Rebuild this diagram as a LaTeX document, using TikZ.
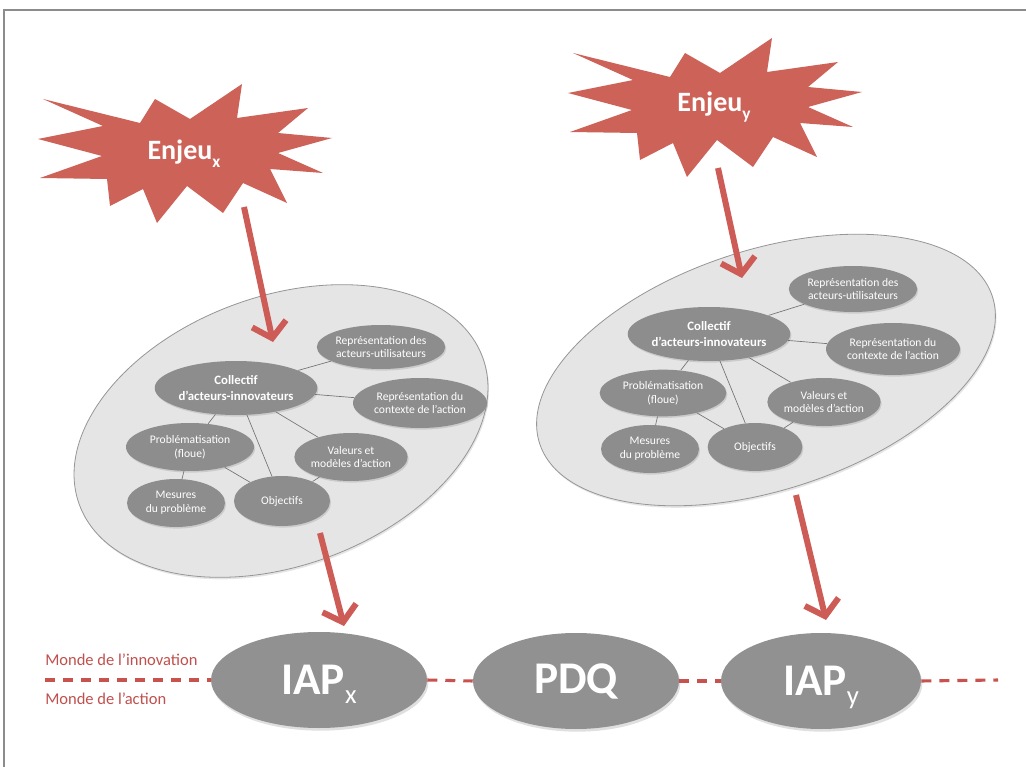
\documentclass[tikz,border=0pt]{standalone}
\usepackage{fontspec}
\setmainfont{Carlito}
\usetikzlibrary{shapes.geometric,arrows.meta,shadows}
\definecolor{starred}{RGB}{205,98,88}
\definecolor{arrred}{RGB}{205,92,86}
\definecolor{dashred}{RGB}{200,82,78}
\definecolor{lblred}{RGB}{192,80,77}
\definecolor{nodegray}{RGB}{141,141,141}
\definecolor{biggray}{RGB}{145,145,145}
\definecolor{cloudfill}{RGB}{229,229,229}
\definecolor{cloudline}{RGB}{150,150,150}
\definecolor{linkgray}{RGB}{115,115,115}
\definecolor{framegray}{RGB}{140,140,140}
\tikzset{
  item/.style={ellipse, fill=nodegray, text=white, inner sep=0pt, align=center,
    font=\fontsize{8.7}{10.2}\selectfont,
    drop shadow={opacity=0.25,shadow xshift=0.8pt,shadow yshift=-1.2pt}},
  headitem/.style={item, font=\fontsize{9.6}{11.5}\selectfont\bfseries},
  cloudnode/.style={ellipse, fill=cloudfill, draw=cloudline, line width=0.6pt, inner sep=0pt,
    drop shadow={opacity=0.2,shadow xshift=0.8pt,shadow yshift=-1.5pt}},
  bignode/.style={ellipse, fill=biggray, text=white, inner sep=0pt,
    minimum height=72pt, font=\fontsize{34}{34}\selectfont\bfseries,
    drop shadow={opacity=0.25,shadow xshift=1pt,shadow yshift=-2pt}},
  link/.style={draw=linkgray, line width=0.5pt},
  bigarrow/.style={draw=arrred, line width=4.5pt,
    -{Straight Barb[length=11pt,width=26pt]}},
  worldline/.style={draw=dashred, line width=2.3pt, dash pattern=on 7.5pt off 6pt},
  starshape/.style={fill=starred},
  startext/.style={text=white, font=\fontsize{21}{21}\selectfont\bfseries},
  worldlabel/.style={text=lblred, anchor=west, inner sep=0pt, font=\fontsize{12.4}{14}\selectfont}
}
\newcommand{\subsc}[1]{\smash{\raisebox{-0.2em}{\fontsize{20}{20}\selectfont\mdseries #1}}}
\newcommand{\ensub}[1]{\smash{\raisebox{-0.3em}{\fontsize{13}{13}\selectfont #1}}}
\begin{document}
\begin{tikzpicture}[x=0.75pt,y=-0.75pt]
\useasboundingbox (0,0) rectangle (1026,767);
\fill[white] (0,0) rectangle (1026,767);
% page frame
\draw[framegray, line width=0.8pt] (4,767) -- (4,10) -- (1026,10);

% stars
\newcommand{\starpath}{(573,53) -- (670,77) -- (685,53) -- (720,73) -- (772,38) -- (767,72) -- (838,62) -- (808,87) -- (862,92) -- (808,107) -- (853,127) -- (800,123) -- (817,157) -- (773,137) -- (753,167) -- (717,140) -- (687,177) -- (673,143) -- (640,160) -- (637,133) -- (570,132) -- (632,110) -- (568,93) -- (633,80) -- cycle}
\fill[starshape] \starpath;
\begin{scope}[shift={(-530,46)}]
\fill[starshape] \starpath;
\end{scope}
\node[startext] (enjx) at (184,152) {Enjeu\ensub{x}};
\node[startext] (enjy) at (714,104) {Enjeu\ensub{y}};

% big clouds
\node[cloudnode, rotate=20, minimum width=322pt, minimum height=202pt] (grpx) at (281,431) {};
\node[cloudnode, rotate=18, minimum width=357pt, minimum height=180pt] (grpy) at (766,370) {};

% left group
\node[headitem, minimum width=118.5pt, minimum height=40.5pt] (collx) at (236,388) {Collectif\\d’acteurs-innovateurs};
\node[item, minimum width=85.5pt, minimum height=33pt] (repax) at (381,347) {Représentation des\\acteurs-utilisateurs};
\node[item, minimum width=100.5pt, minimum height=37.5pt] (repcx) at (420,403) {Représentation du\\contexte de l’action};
\node[item, minimum width=82.5pt, minimum height=36pt] (valx) at (351,457) {Valeurs et\\modèles d’action};
\node[item, minimum width=96pt, minimum height=36pt] (probx) at (190,447) {Problématisation\\(floue)};
\node[item, minimum width=73.5pt, minimum height=36pt] (mesx) at (176,503) {Mesures\\du problème};
\node[item, minimum width=72pt, minimum height=37.5pt] (objx) at (282,501) {Objectifs};

% right group
\node[headitem, minimum width=118.5pt, minimum height=40.5pt] (colly) at (709,334) {Collectif\\d’acteurs-innovateurs};
\node[item, minimum width=82.5pt, minimum height=34.5pt] (repay) at (853,289) {Représentation des\\acteurs-utilisateurs};
\node[item, minimum width=100.5pt, minimum height=39pt] (repcy) at (893,349) {Représentation du\\contexte de l’action};
\node[item, minimum width=82.5pt, minimum height=36pt] (valy) at (824,402) {Valeurs et\\modèles d’action};
\node[item, minimum width=95pt, minimum height=35pt] (proby) at (663,393) {Problématisation\\(floue)};
\node[item, minimum width=73.5pt, minimum height=36pt] (mesy) at (650,449) {Mesures\\du problème};
\node[item, minimum width=71pt, minimum height=36pt] (objy) at (755,447) {Objectifs};

% links
\foreach \g in {x,y}{
  \draw[link] (coll\g) -- (repa\g);
  \draw[link] (coll\g) -- (repc\g);
  \draw[link] (coll\g) -- (val\g);
  \draw[link] (coll\g) -- (obj\g);
  \draw[link] (coll\g) -- (prob\g);
  \draw[link] (prob\g) -- (mes\g);
  \draw[link] (prob\g) -- (obj\g);
  \draw[link] (val\g) -- (obj\g);
}

% world line and bottom nodes
\coordinate (wl) at (45,680);
\coordinate (wr) at (998,680);
\node[bignode, minimum width=162pt] (iapx) at (319,680) {IAP\subsc{x}};
\node[bignode, minimum width=154.5pt] (pdq) at (576,681) {PDQ};
\node[bignode, minimum width=150pt] (iapy) at (821,681) {IAP\subsc{y}};
\draw[worldline] (wl) -- (iapx.west);
\draw[worldline] (iapx.east) -- (pdq.west);
\draw[worldline] (pdq.east) -- (iapy.west);
\draw[worldline] (iapy.east) -- (wr);
\node[worldlabel] (innov) at (45,660) {Monde de l’innovation};
\node[worldlabel] (act) at (45,699) {Monde de l’action};

% arrows
\coordinate (a1s) at (244,207);
\coordinate (a1e) at (273,342);
\coordinate (a2s) at (320,533);
\coordinate (a2e) at (344,626);
\coordinate (a3s) at (718,168);
\coordinate (a3e) at (742,278);
\coordinate (a4s) at (796,495);
\coordinate (a4e) at (826,620);
\draw[bigarrow] (a1s) -- (a1e);
\draw[bigarrow] (a2s) -- (a2e);
\draw[bigarrow] (a3s) -- (a3e);
\draw[bigarrow] (a4s) -- (a4e);
\end{tikzpicture}
\end{document}
